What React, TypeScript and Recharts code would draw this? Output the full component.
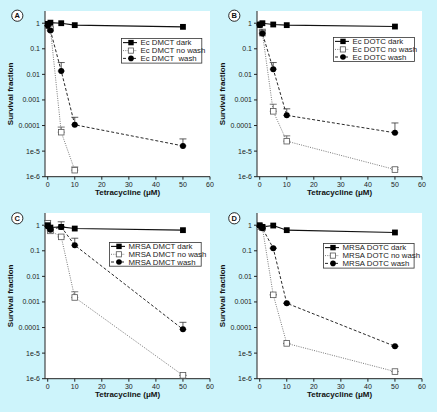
import React from 'react';
import { LineChart, Line, XAxis, YAxis, CartesianGrid, ErrorBar, Legend } from 'recharts';

const FONT = '"Liberation Sans", Arial, Helvetica, sans-serif';

const CONCENTRATIONS = [0, 1, 5, 10, 50];
const X_TICKS = [0, 10, 20, 30, 40, 50, 60];
const Y_TICKS = [1e-6, 1e-5, 1e-4, 1e-3, 1e-2, 1e-1, 1];
const Y_TICK_LABELS = ['1e-6', '1e-5', '0.0001', '0.001', '0.01', '0.1', '1'];

// Panel A – Ec DMCT
const A_NAMES = ['Ec DMCT dark', 'Ec DMCT no wash', 'Ec DMCT  wash'];
const A_DARK = [0.94, 1.05, 1.0, 0.84, 0.72];
const A_NOWASH = [0.8, 0.6, 5.5e-5, 1.8e-6, null];
const A_WASH = [0.8, 0.52, 0.0135, 1.07e-4, 1.6e-5];
const A_NOWASH_ERR = [0, 0.1, 3.2e-5, 0.6e-6, 0];
const A_WASH_ERR = [0, 0, 0.0155, 1.03e-4, 1.4e-5];

// Panel B – Ec DOTC
const B_NAMES = ['Ec DOTC dark', 'Ec DOTC no wash', 'Ec DOTC wash'];
const B_DARK = [0.86, 1.0, 0.89, 0.84, 0.74];
const B_NOWASH = [0.9, 0.41, 3.6e-4, 2.45e-5, 1.9e-6];
const B_WASH = [0.85, 0.4, 0.016, 2.5e-4, 5.2e-5];
const B_NOWASH_ERR = [0, 0.1, 3.2e-4, 1.5e-5, 0.4e-6];
const B_WASH_ERR = [0, 0.18, 0.013, 2.0e-4, 7.4e-5];

// Panel C – MRSA DMCT
const C_NAMES = ['MRSA DMCT dark', 'MRSA DMCT no wash', 'MRSA DMCT wash'];
const C_DARK = [1.0, 0.81, 0.86, 0.74, 0.64];
const C_NOWASH = [1.2, 0.6, 0.35, 0.0015, 1.35e-6];
const C_WASH = [0.89, 0.66, 0.86, 0.165, 8.5e-5];
const C_NOWASH_ERR = [0.3, 0, 0, 0.001, 0];
const C_WASH_ERR = [0, 0, 0.5, 0.145, 7.5e-5];

// Panel D – MRSA DOTC
const D_NAMES = ['MRSA DOTC dark', 'MRSA DOTC no wash', 'MRSA DOTC wash'];
const D_DARK = [1.0, 0.86, 0.97, 0.64, 0.52];
const D_NOWASH = [0.89, 0.79, 0.0019, 2.4e-5, 1.9e-6];
const D_WASH = [0.94, 0.76, 0.126, 8.9e-4, 1.85e-5];
const D_NOWASH_ERR = [0, 0, 0, 0, 0];
const D_WASH_ERR = [0, 0, 0, 0, 0];

function buildRows(dark, nowash, wash, nowashErr, washErr) {
  return CONCENTRATIONS.map((x, i) => ({
    x,
    dark: dark[i],
    nowash: nowash[i],
    wash: wash[i],
    nowashErr: [0, nowashErr[i]],
    washErr: [0, washErr[i]],
  }));
}

const DARK_STYLE = { stroke: '#111', width: 1.1, dash: undefined };
const NOWASH_STYLE = { stroke: '#6a6a6a', width: 0.9, dash: '1 1.3' };
const WASH_STYLE = { stroke: '#111', width: 0.9, dash: '3 2' };

const darkDot = (p: any) => {
  const k = `dk${p.index}`;
  if (p.cx == null || p.cy == null || p.value == null) return <g key={k} />;
  return <rect key={k} x={p.cx - 2.9} y={p.cy - 2.9} width={5.8} height={5.8} fill="#000" />;
};
const nowashDot = (p: any) => {
  const k = `nw${p.index}`;
  if (p.cx == null || p.cy == null || p.value == null) return <g key={k} />;
  return (
    <rect key={k} x={p.cx - 2.8} y={p.cy - 2.8} width={5.6} height={5.6} fill="#fff" stroke="#555" strokeWidth={0.8} />
  );
};
const washDot = (p: any) => {
  const k = `w${p.index}`;
  if (p.cx == null || p.cy == null || p.value == null) return <g key={k} />;
  return <circle key={k} cx={p.cx} cy={p.cy} r={3} fill="#000" />;
};

function LegendBox({ names, width, height, rows }) {
  const styles = [DARK_STYLE, NOWASH_STYLE, WASH_STYLE];
  return (
    <svg width={width} height={height} style={{ display: 'block', overflow: 'visible' }}>
      <rect x={0.5} y={0.5} width={width - 1} height={height - 1} fill="#fff" stroke="#333" strokeWidth={0.8} />
      {names.map((n, i) => {
        const y = rows[i];
        const s = styles[i];
        return (
          <g key={n}>
            <line x1={2} x2={16} y1={y} y2={y} stroke={s.stroke} strokeWidth={s.width} strokeDasharray={s.dash} />
            {i === 0 && <rect x={7.3} y={y - 2.7} width={5.4} height={5.4} fill="#000" />}
            {i === 1 && <rect x={7.3} y={y - 2.6} width={5.2} height={5.2} fill="#fff" stroke="#555" strokeWidth={0.8} />}
            {i === 2 && <circle cx={10} cy={y} r={2.8} fill="#000" />}
            <text x={19.5} y={y + 2.8} fontSize={7.8} fill="#222" fontFamily={FONT} style={{ whiteSpace: 'pre' }}>
              {n}
            </text>
          </g>
        );
      })}
    </svg>
  );
}

function Panel({ left, top, data, names, legend }) {
  return (
    <div style={{ position: 'absolute', left, top, width: 218, height: 206 }}>
      <LineChart
        width={218}
        height={206}
        data={data}
        margin={{ top: 11, right: 8, bottom: 0, left: 0 }}
        style={{ fontFamily: FONT }}
      >
        <CartesianGrid horizontal={false} vertical={false} fill="#ffffff" stroke="none" />
        <XAxis
          type="number"
          dataKey="x"
          domain={[-1, 60]}
          ticks={X_TICKS}
          allowDataOverflow
          height={29.3}
          tickSize={3}
          tick={{ fontSize: 7, fill: '#222' }}
          axisLine={{ stroke: '#222', strokeWidth: 1 }}
          tickLine={{ stroke: '#222' }}
          label={{
            value: 'Tetracycline (μM)',
            position: 'insideBottom',
            offset: 11,
            style: { fontSize: 8, fontWeight: 'bold', fill: '#111', fontFamily: FONT },
          }}
        />
        <YAxis
          type="number"
          scale="log"
          domain={[1e-6, 3]}
          ticks={Y_TICKS}
          allowDataOverflow
          width={45}
          tickSize={3}
          tick={{ fontSize: 7, fill: '#222' }}
          tickFormatter={(v) => {
            const idx = Y_TICKS.findIndex((t) => Math.abs(Math.log10(t) - Math.log10(v)) < 1e-6);
            return idx >= 0 ? Y_TICK_LABELS[idx] : '';
          }}
          axisLine={{ stroke: '#222', strokeWidth: 1 }}
          tickLine={{ stroke: '#222' }}
          label={{
            value: 'Survival fraction',
            angle: -90,
            position: 'insideLeft',
            offset: 10.5,
            style: { fontSize: 8, fontWeight: 'bold', fill: '#111', textAnchor: 'middle', fontFamily: FONT },
          }}
        />
        <Legend
          layout="vertical"
          align="center"
          verticalAlign="middle"
          wrapperStyle={{ position: 'absolute', left: legend.left, top: legend.top, width: legend.width, height: legend.height }}
          content={() => <LegendBox names={names} width={legend.width} height={legend.height} rows={legend.rows} />}
        />
        <Line
          dataKey="nowash"
          name={names[1]}
          stroke={NOWASH_STYLE.stroke}
          strokeWidth={NOWASH_STYLE.width}
          strokeDasharray={NOWASH_STYLE.dash}
          dot={nowashDot}
          activeDot={false}
          isAnimationActive={false}
          connectNulls={false}
        >
          <ErrorBar dataKey="nowashErr" direction="y" width={3.5} stroke="#555" strokeWidth={0.8} />
        </Line>
        <Line
          dataKey="wash"
          name={names[2]}
          stroke={WASH_STYLE.stroke}
          strokeWidth={WASH_STYLE.width}
          strokeDasharray={WASH_STYLE.dash}
          dot={washDot}
          activeDot={false}
          isAnimationActive={false}
        >
          <ErrorBar dataKey="washErr" direction="y" width={3.5} stroke="#333" strokeWidth={0.8} />
        </Line>
        <Line
          dataKey="dark"
          name={names[0]}
          stroke={DARK_STYLE.stroke}
          strokeWidth={DARK_STYLE.width}
          dot={darkDot}
          activeDot={false}
          isAnimationActive={false}
        />
      </LineChart>
    </div>
  );
}

const PANEL_LABELS = [
  { letter: 'A', x: 17.3, y: 15.7 },
  { letter: 'B', x: 234.3, y: 15.7 },
  { letter: 'C', x: 17.3, y: 218.3 },
  { letter: 'D', x: 234.3, y: 218.3 },
];

export default function App() {
  const dataA = buildRows(A_DARK, A_NOWASH, A_WASH, A_NOWASH_ERR, A_WASH_ERR);
  const dataB = buildRows(B_DARK, B_NOWASH, B_WASH, B_NOWASH_ERR, B_WASH_ERR);
  const dataC = buildRows(C_DARK, C_NOWASH, C_WASH, C_NOWASH_ERR, C_WASH_ERR);
  const dataD = buildRows(D_DARK, D_NOWASH, D_WASH, D_NOWASH_ERR, D_WASH_ERR);
  return (
    <div
      style={{
        position: 'absolute',
        left: 0,
        top: 0,
        width: 437,
        height: 412,
        background: '#cdf4fb',
        fontFamily: FONT,
        overflow: 'hidden',
      }}
    >
      <Panel left={0} top={0} data={dataA} names={A_NAMES}
        legend={{ left: 120.7, top: 37.7, width: 81.3, height: 25.6, rows: [4.6, 12.6, 20.4] }} />
      <Panel left={212} top={0} data={dataB} names={B_NAMES}
        legend={{ left: 121, top: 37.3, width: 82, height: 25, rows: [4.4, 12.4, 20.0] }} />
      <Panel left={0} top={202} data={dataC} names={C_NAMES}
        legend={{ left: 109, top: 40, width: 92.7, height: 24.7, rows: [4.4, 12.3, 20.0] }} />
      <Panel left={212} top={202} data={dataD} names={D_NAMES}
        legend={{ left: 110.7, top: 40.7, width: 91.6, height: 25.6, rows: [4.6, 12.6, 20.4] }} />
      <svg width={437} height={412} style={{ position: 'absolute', left: 0, top: 0, pointerEvents: 'none' }}>
        {PANEL_LABELS.map((l) => (
          <g key={l.letter}>
            <circle cx={l.x} cy={l.y} r={5.6} fill="#fff" stroke="#111" strokeWidth={0.9} />
            <text x={l.x} y={l.y + 2.7} textAnchor="middle" fontSize={7.5} fontWeight="bold" fill="#111" fontFamily={FONT}>
              {l.letter}
            </text>
          </g>
        ))}
      </svg>
    </div>
  );
}
